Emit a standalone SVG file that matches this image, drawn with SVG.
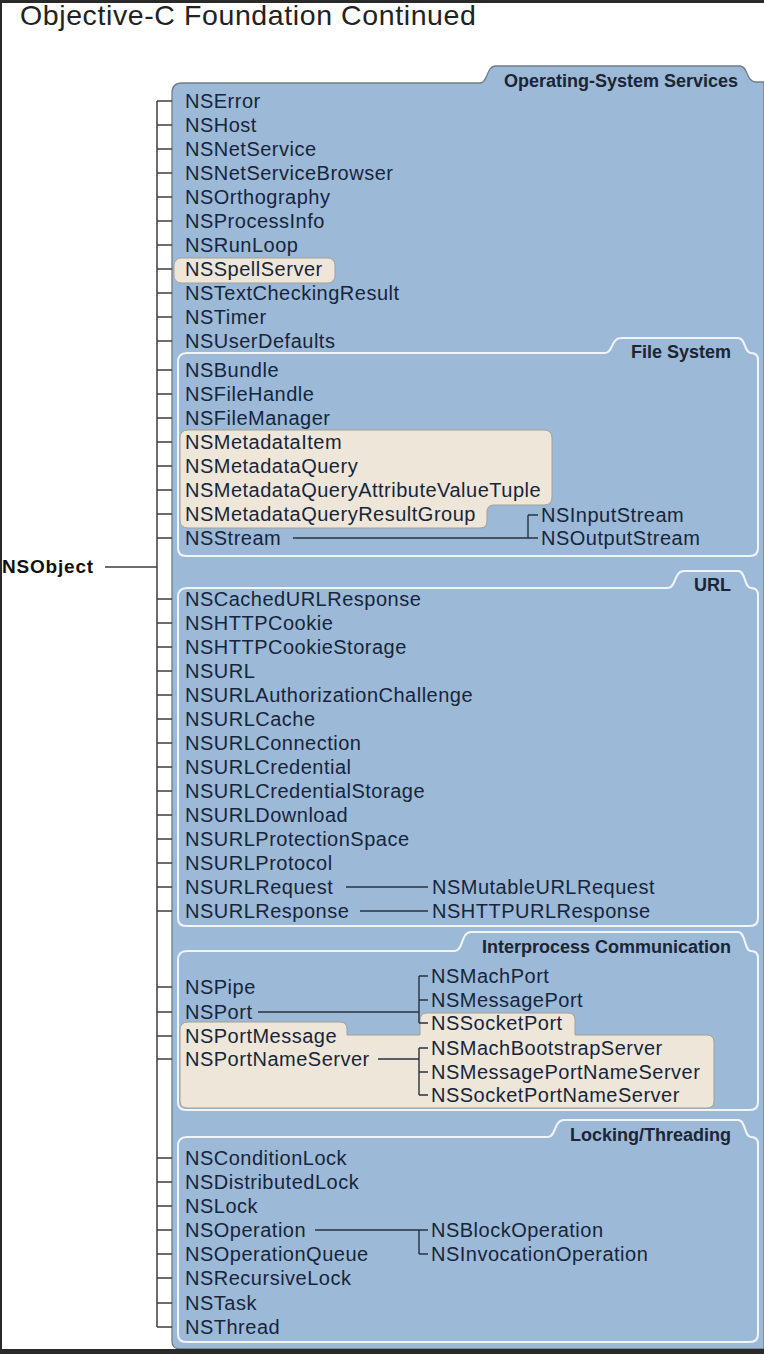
<svg xmlns="http://www.w3.org/2000/svg" width="764" height="1354" viewBox="0 0 764 1354">
<style>
.t{font-family:"Liberation Sans",Arial,Helvetica,sans-serif;font-size:20px;letter-spacing:0.5px;fill:#17253a}
.h{font-family:"Liberation Sans",Arial,Helvetica,sans-serif;font-size:18px;font-weight:bold;fill:#1b2533;text-anchor:end}
.title{font-family:"Liberation Sans",Arial,Helvetica,sans-serif;font-size:28.5px;letter-spacing:0.6px;fill:#222}
.panel{fill:#9cb9d8;stroke:#6f7d8b;stroke-width:1.3}
.box{fill:#9cb9d8;stroke:#f1f5fa;stroke-width:2}
.hl{fill:#ede6d9;stroke:#a8a08f;stroke-width:1}
.tree{fill:none;stroke:#3e3e3e;stroke-width:1.5}
.con{fill:none;stroke:#27323f;stroke-width:1.4}
</style>
<rect x="0" y="0" width="764" height="1354" fill="#ffffff"/>
<text class="title" x="20" y="25">Objective-C Foundation Continued</text>

<g id="panel-oss">
<path class="panel" d="M172,93 Q172,83 182,83 L480,83 C488,83 486,66 496,66 L740,66 C748,66 746,82 756,82 L764,82 L764,1349 L180,1349 Q172,1349 172,1341 Z"/>
<text class="h" x="738" y="87">Operating-System Services</text>
</g>

<g id="panel-fs">
<path class="box" d="M178,362 Q178,353 187,353 L605,353 C613,353 611,338 621,338 L738,338 C746,338 744,353 751,353 Q758,353 758,360 L758,548 Q758,556 750,556 L186,556 Q178,556 178,548 Z"/>
<text class="h" x="731" y="358">File System</text>
</g>

<g id="panel-url">
<path class="box" d="M178,597 Q178,588 187,588 L668,588 C676,588 674,571 684,571 L738,571 C746,571 744,588 751,588 Q758,588 758,595 L758,918 Q758,926 750,926 L186,926 Q178,926 178,918 Z"/>
<text class="h" x="731" y="591">URL</text>
</g>

<g id="panel-ipc">
<path class="box" d="M178,960 Q178,951 187,951 L455,951 C463,951 461,932 471,932 L738,932 C746,932 744,951 751,951 Q758,951 758,958 L758,1102 Q758,1110 750,1110 L186,1110 Q178,1110 178,1102 Z"/>
<text class="h" x="731" y="953">Interprocess Communication</text>
</g>

<g id="panel-lock">
<path class="box" d="M178,1146 Q178,1137 187,1137 L548,1137 C556,1137 554,1120 564,1120 L738,1120 C746,1120 744,1137 751,1137 Q758,1137 758,1144 L758,1334 Q758,1342 750,1342 L186,1342 Q178,1342 178,1334 Z"/>
<text class="h" x="731" y="1141">Locking/Threading</text>
</g>

<g id="highlights">
<rect class="hl" x="174" y="258" width="161" height="25" rx="7"/>
<path class="hl" d="M180,438 Q180,430 188,430 L544,430 Q552,430 552,438 L552,497 Q552,505 544,505 L494,505 Q487,505 487,512 L487,521 Q487,528 480,528 L188,528 Q180,528 180,520 Z"/>
<path class="hl" d="M180,1030 Q180,1022 188,1022 L340,1022 Q347,1022 347,1029 L347,1035 L420,1035 L420,1020 Q420,1013 427,1013 L568,1013 Q575,1013 575,1020 L575,1035 L707,1035 Q714,1035 714,1042 L714,1101 Q714,1108 707,1108 L187,1108 Q180,1108 180,1101 Z"/>
</g>

<g id="connectors">
<path class="tree" d="M105,567 H157 M157,101 V1327"/>
<path class="tree" d="M157,101 H172 M157,125 H172 M157,149 H172 M157,173 H172 M157,197 H172 M157,221 H172 M157,245 H172 M157,269 H172 M157,293 H172 M157,317 H172 M157,341 H172"/>
<path class="tree" d="M157,370 H172 M157,394 H172 M157,418 H172 M157,442 H172 M157,466 H172 M157,490 H172 M157,514 H172 M157,538 H172"/>
<path class="tree" d="M157,599 H172 M157,623 H172 M157,647 H172 M157,671 H172 M157,695 H172 M157,719 H172 M157,743 H172 M157,767 H172 M157,791 H172 M157,815 H172 M157,839 H172 M157,863 H172 M157,887 H172 M157,911 H172"/>
<path class="tree" d="M157,987 H172 M157,1012 H172 M157,1036 H172 M157,1059 H172"/>
<path class="tree" d="M157,1158 H172 M157,1182 H172 M157,1206 H172 M157,1230 H172 M157,1254 H172 M157,1278 H172 M157,1303 H172 M157,1327 H172"/>
<path class="con" d="M293,538 H528 M528,515 V538 M528,515 H538 M528,538 H538"/>
<path class="con" d="M346,887 H428 M360,911 H428"/>
<path class="con" d="M258,1012 H419 M419,976 V1023 M419,976 H428 M419,1000 H428 M419,1023 H428"/>
<path class="con" d="M378,1059 H419 M419,1048 V1095 M419,1048 H428 M419,1072 H428 M419,1095 H428"/>
<path class="con" d="M315,1230 H419 M419,1230 V1254 M419,1230 H428 M419,1254 H428"/>
</g>

<g id="node-nsobject">
<text x="2" y="573" style="font-family:'Liberation Sans',Arial,sans-serif;font-size:19px;font-weight:bold;letter-spacing:0.8px;fill:#111">NSObject</text>
</g>

<g id="nodes-oss">
<text class="t" x="185" y="108">NSError</text>
<text class="t" x="185" y="132">NSHost</text>
<text class="t" x="185" y="156">NSNetService</text>
<text class="t" x="185" y="180">NSNetServiceBrowser</text>
<text class="t" x="185" y="204">NSOrthography</text>
<text class="t" x="185" y="228">NSProcessInfo</text>
<text class="t" x="185" y="252">NSRunLoop</text>
<text class="t" x="185" y="276">NSSpellServer</text>
<text class="t" x="185" y="300">NSTextCheckingResult</text>
<text class="t" x="185" y="324">NSTimer</text>
<text class="t" x="185" y="348">NSUserDefaults</text>
</g>

<g id="nodes-fs">
<text class="t" x="185" y="377">NSBundle</text>
<text class="t" x="185" y="401">NSFileHandle</text>
<text class="t" x="185" y="425">NSFileManager</text>
<text class="t" x="185" y="449">NSMetadataItem</text>
<text class="t" x="185" y="473">NSMetadataQuery</text>
<text class="t" x="185" y="497">NSMetadataQueryAttributeValueTuple</text>
<text class="t" x="185" y="521">NSMetadataQueryResultGroup</text>
<text class="t" x="185" y="545">NSStream</text>
<text class="t" x="541" y="522">NSInputStream</text>
<text class="t" x="541" y="545">NSOutputStream</text>
</g>

<g id="nodes-url">
<text class="t" x="185" y="606">NSCachedURLResponse</text>
<text class="t" x="185" y="630">NSHTTPCookie</text>
<text class="t" x="185" y="654">NSHTTPCookieStorage</text>
<text class="t" x="185" y="678">NSURL</text>
<text class="t" x="185" y="702">NSURLAuthorizationChallenge</text>
<text class="t" x="185" y="726">NSURLCache</text>
<text class="t" x="185" y="750">NSURLConnection</text>
<text class="t" x="185" y="774">NSURLCredential</text>
<text class="t" x="185" y="798">NSURLCredentialStorage</text>
<text class="t" x="185" y="822">NSURLDownload</text>
<text class="t" x="185" y="846">NSURLProtectionSpace</text>
<text class="t" x="185" y="870">NSURLProtocol</text>
<text class="t" x="185" y="894">NSURLRequest</text>
<text class="t" x="185" y="918">NSURLResponse</text>
<text class="t" x="432" y="894">NSMutableURLRequest</text>
<text class="t" x="432" y="918">NSHTTPURLResponse</text>
</g>

<g id="nodes-ipc">
<text class="t" x="185" y="994">NSPipe</text>
<text class="t" x="185" y="1019">NSPort</text>
<text class="t" x="185" y="1043">NSPortMessage</text>
<text class="t" x="185" y="1066">NSPortNameServer</text>
<text class="t" x="431" y="983">NSMachPort</text>
<text class="t" x="431" y="1007">NSMessagePort</text>
<text class="t" x="431" y="1030">NSSocketPort</text>
<text class="t" x="431" y="1055">NSMachBootstrapServer</text>
<text class="t" x="431" y="1079">NSMessagePortNameServer</text>
<text class="t" x="431" y="1102">NSSocketPortNameServer</text>
</g>

<g id="nodes-lock">
<text class="t" x="185" y="1165">NSConditionLock</text>
<text class="t" x="185" y="1189">NSDistributedLock</text>
<text class="t" x="185" y="1213">NSLock</text>
<text class="t" x="185" y="1237">NSOperation</text>
<text class="t" x="185" y="1261">NSOperationQueue</text>
<text class="t" x="185" y="1285">NSRecursiveLock</text>
<text class="t" x="185" y="1310">NSTask</text>
<text class="t" x="185" y="1334">NSThread</text>
<text class="t" x="431" y="1237">NSBlockOperation</text>
<text class="t" x="431" y="1261">NSInvocationOperation</text>
</g>

<g id="frame">
<rect x="0" y="0" width="764" height="3" fill="#2a2a2a"/>
<rect x="0" y="0" width="2" height="1354" fill="#2a2a2a"/>
<rect x="0" y="1349" width="764" height="5" fill="#2a2a2a"/>
</g>
</svg>
